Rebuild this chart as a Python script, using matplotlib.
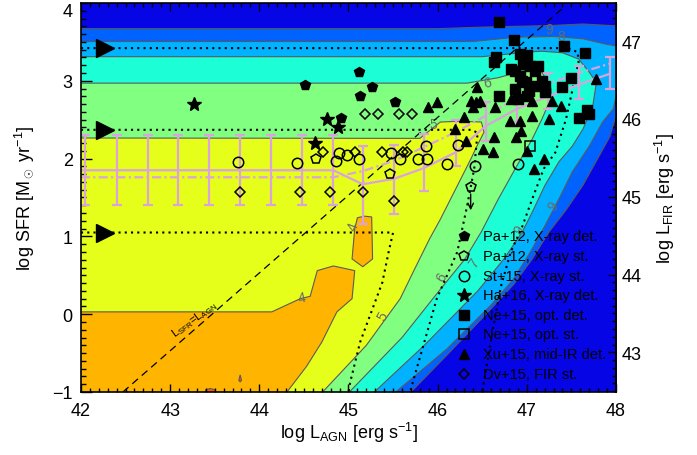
import numpy as np
import matplotlib
matplotlib.use('Agg')
import matplotlib.pyplot as plt
from matplotlib.ticker import MultipleLocator, FixedLocator

plt.rcParams['font.family'] = ['Liberation Sans', 'DejaVu Sans']
plt.rcParams['mathtext.fontset'] = 'custom'
plt.rcParams['mathtext.rm'] = 'Liberation Sans'
plt.rcParams['mathtext.it'] = 'Liberation Sans:italic'

# SFR -> L_FIR offset for the right axis
lfir_off = 43.49

# contour regions (filled, nested), outer to inner
med_x = [41.9, 46.0, 46.5, 47.25, 47.63, 48.1, 48.1, 48.0, 47.93, 47.78, 47.63, 47.44, 47.25, 47.06, 46.85, 46.5, 46.1, 45.70, 45.62, 41.9]
med_y = [3.67, 3.67, 3.69, 3.71, 3.73, 3.70, 2.6, 2.55, 2.28, 1.97, 1.66, 1.34, 1.06, 0.71, 0.38, -0.05, -0.53, -1.0, -1.1, -1.1]
sky_x = [41.9, 46.4, 46.87, 47.3, 47.63, 47.89, 48.1, 48.1, 48.0, 47.97, 47.85, 47.70, 47.51, 47.36, 47.20, 47.04, 46.85, 46.6, 46.1, 45.53, 45.45, 41.9]
sky_y = [3.505, 3.505, 3.56, 3.57, 3.54, 3.47, 3.43, 2.85, 2.8, 2.64, 2.47, 2.16, 1.83, 1.48, 1.13, 0.80, 0.45, 0.12, -0.45, -1.0, -1.1, -1.1]
cyan_x = [41.9, 46.5, 47.01, 47.17, 47.4, 47.58, 47.70, 47.78, 47.74, 47.63, 47.51, 47.36, 47.20, 47.06, 46.95, 46.75, 46.45, 45.85, 45.29, 45.2, 41.9]
cyan_y = [3.31, 3.31, 3.37, 3.38, 3.36, 3.28, 3.11, 2.98, 2.68, 2.38, 2.16, 1.96, 1.65, 1.31, 1.06, 0.72, 0.3, -0.4, -1.0, -1.1, -1.1]
green_x = [41.9, 46.33, 46.68, 46.9, 47.05, 47.17, 47.26, 47.28, 47.17, 47.06, 46.87, 46.68, 46.49, 46.3, 46.03, 45.6, 45.01, 44.92, 41.9]
green_y = [2.97, 2.97, 3.04, 3.11, 3.15, 3.11, 2.93, 2.8, 2.51, 2.25, 1.87, 1.48, 1.06, 0.7, 0.32, -0.3, -1.0, -1.1, -1.1]
yel_x = [41.9, 45.8, 46.03, 46.25, 46.49, 46.52, 46.44, 46.37, 46.22, 46.03, 45.91, 45.75, 45.58, 45.2, 44.71, 44.63, 41.9]
yel_y = [2.265, 2.26, 2.47, 2.48, 2.47, 2.34, 2.16, 1.99, 1.65, 1.22, 0.97, 0.6, 0.2, -0.4, -1.0, -1.1, -1.1]
ora_x = [41.9, 44.14, 44.46, 44.57, 44.65, 44.83, 45.07, 45.04, 44.87, 44.70, 44.53, 44.31, 44.25, 41.9]
ora_y = [0.03, 0.03, 0.20, 0.23, 0.56, 0.62, 0.56, 0.20, 0.03, -0.36, -0.67, -1.0, -1.1, -1.1]
isl_x = [45.07, 45.10, 45.18, 45.26, 45.27, 45.16, 45.04]
isl_y = [1.10, 1.24, 1.26, 1.25, 0.71, 0.61, 0.71]
red1_x = [43.37, 43.40, 43.45, 43.50, 43.53]
red1_y = [-1.1, -0.97, -0.955, -0.97, -1.1]
red2_x = [43.77, 43.785, 43.80, 43.785]
red2_y = [-0.85, -0.78, -0.85, -0.87]

# dotted model tracks
dotA_x = [42.0, 47.45, 47.57, 47.58, 47.52, 47.44, 47.32, 47.19, 47.06, 46.95, 46.82, 46.71, 46.62, 46.5]
dotA_y = [3.42, 3.42, 3.37, 3.24, 2.93, 2.51, 2.08, 1.87, 1.48, 1.13, 0.80, 0.36, -0.19, -1.0]
dotB_x = [42.0, 46.38, 46.45, 46.44, 46.41, 46.33, 46.22, 45.99, 45.69]
dotB_y = [2.37, 2.37, 2.33, 2.25, 1.87, 1.39, 0.80, 0.2, -1.0]
dotC_x = [42.0, 45.5, 45.45, 45.38, 45.24, 45.13, 45.02, 45.0]
dotC_y = [1.05, 1.05, 0.8, 0.41, -0.02, -0.36, -0.87, -1.0]
arrow_x = [42.27, 42.27, 42.27]
arrow_y = [3.42, 2.37, 1.05]

# L_SFR = L_AGN
eq_x = np.array([42.47, 47.40])
eq_y = eq_x - 43.47

# binned averages
bar_x = [42.05, 42.4, 42.75, 43.09, 43.43, 43.78, 44.13, 44.48, 44.83, 45.16, 45.51, 45.85, 46.2, 46.54, 46.89, 47.24, 47.58, 47.93]
bar_y = [1.85] * 9 + [1.66, 1.73, 1.95, 2.20, 2.48, 2.70, 2.87, 2.98, 3.10]
bar_err = [0.45] * 9 + [0.50, 0.44, 0.37, 0.30, 0.25, 0.23, 0.23, 0.21, 0.21]
solid_y = [1.85] * 9 + [1.67, 1.74, 1.88, 2.08, 2.42, 2.64, 2.80, 2.95, 3.09]
dashdot_y = [1.76] * 9 + [1.84, 1.97, 2.15, 2.34, 2.55, 2.78, 2.96, 3.10, 3.22]

# observed samples
pent_x = [44.51, 45.12, 45.13, 45.26, 44.92, 45.52]
pent_y = [2.95, 3.11, 2.80, 2.92, 2.52, 2.73]
opent_x = [44.64, 45.47, 46.37]
opent_y = [2.00, 1.80, 1.64]
circ_x = [43.76, 44.42, 44.86, 44.89, 44.98, 45.12, 45.48, 45.58, 45.78, 45.87, 45.88, 46.10, 46.23, 46.42, 46.90]
circ_y = [1.96, 1.94, 1.97, 2.07, 2.05, 2.00, 2.07, 1.99, 2.00, 2.16, 2.00, 1.93, 2.17, 1.90, 1.93]
star_x = [43.27, 44.76, 44.88, 44.62]
star_y = [2.70, 2.51, 2.41, 2.20]
sq_x = [46.69, 46.86, 47.42, 47.65, 46.65, 46.63, 46.92, 47.00, 46.96, 46.82, 46.87, 47.03, 47.12, 47.09, 46.92, 46.95,
        46.99, 47.17, 47.20, 47.09, 46.87, 47.02, 46.90, 47.00, 47.20, 47.39, 47.49, 46.69, 47.58, 47.70, 47.68]
sq_y = [3.76, 3.53, 3.45, 3.36, 3.31, 3.24, 3.34, 3.33, 3.22, 3.15, 3.12, 3.19, 3.19, 3.12, 3.06, 3.00,
        2.98, 3.00, 2.93, 2.93, 2.89, 2.87, 2.77, 2.81, 2.86, 2.92, 3.04, 2.81, 2.52, 2.57, 2.62]
osq_x = [47.04]
osq_y = [2.16]
tri_x = [45.89, 45.99, 46.29, 46.19, 46.32, 46.37, 46.43, 46.48, 46.44, 46.51, 46.62, 46.63, 46.64, 46.81, 46.92,
         46.88, 46.94, 47.06, 47.25, 46.82, 47.06, 47.28, 47.38, 47.78, 47.00, 47.19, 47.08, 46.40]
tri_y = [2.66, 2.73, 2.53, 2.38, 2.23, 2.74, 2.73, 2.74, 2.92, 2.12, 2.08, 2.28, 2.66, 2.48, 2.48,
         2.28, 2.35, 2.55, 2.51, 2.77, 2.74, 2.74, 2.68, 3.02, 2.10, 1.99, 1.87, 2.66]
dia_x = [43.78, 44.46, 44.79, 45.16, 45.51, 44.71, 45.07, 45.38, 45.61, 45.66, 45.18, 45.33, 45.57, 45.71]
dia_y = [1.57, 1.57, 1.57, 1.57, 1.45, 2.08, 2.08, 2.08, 2.09, 2.09, 2.57, 2.57, 2.57, 2.57]

legend_labels = ['Pa+12, X-ray det.', 'Pa+12, X-ray st.', 'St+15, X-ray st.', 'Ha+16, X-ray det.',
                 'Ne+15, opt. det.', 'Ne+15, opt. st.', 'Xu+15, mid-IR det.', 'Dv+15, FIR st.']

# contour labels
clab_txt = ['4', '4', '5', '5', '6', '6', '7', '8', '9', '9', '9']
clab_x = [44.48, 45.05, 45.39, 45.95, 46.05, 46.56, 46.41, 47.39, 47.25, 47.30, 46.92]
clab_y = [0.21, 1.13, -0.02, 2.44, 0.48, 2.98, 0.67, 3.58, 3.67, 1.39, 1.09]
clab_rot = [10, 70, 60, 0, 60, 10, 55, 0, 0, 55, 55]

fig = plt.figure(figsize=(6.97, 4.56), dpi=100)
ax = fig.add_axes([81 / 697, 1 - 393 / 456, 535 / 697, 389 / 456])
ax.set_facecolor('#0505e6')

edge = '#5a5a5a'
for xs, ys, col in [(med_x, med_y, '#0062ff'), (sky_x, sky_y, '#00b2ff'), (cyan_x, cyan_y, '#1cffd6'),
                    (green_x, green_y, '#80ff80'), (yel_x, yel_y, '#e6ff1a'), (ora_x, ora_y, '#ffb400'),
                    (isl_x, isl_y, '#ffb400'), (red1_x, red1_y, '#ff5a00'), (red2_x, red2_y, '#ff5a00')]:
    ax.fill(xs, ys, facecolor=col, edgecolor=edge, lw=0.8, zorder=1)

for t, x, y, r in zip(clab_txt, clab_x, clab_y, clab_rot):
    ax.text(x, y, t, color='#6a6a6a', fontsize=10, rotation=r, ha='center', va='center', zorder=2)

dot = (0, (1, 2))
for xs, ys in [(dotA_x, dotA_y), (dotB_x, dotB_y), (dotC_x, dotC_y)]:
    ax.plot(xs, ys, color='k', ls=dot, lw=1.5, zorder=3)
ax.plot(arrow_x, arrow_y, ls='none', marker='>', ms=13, color='k', zorder=3)

ax.plot(eq_x, eq_y, color='k', ls=(0, (6, 4)), lw=0.9, zorder=3)
ax.text(43.27, -0.06, r'L$_{\rm SFR}$=L$_{\rm AGN}$', fontsize=8, rotation=36,
        ha='center', va='center', zorder=3)

pink = '#dba2dc'
line_x = [42.0] + bar_x[1:]
ax.plot(line_x, solid_y, color=pink, lw=1.6, zorder=4)
ax.plot(line_x, dashdot_y, color=pink, lw=1.6, ls=(0, (4, 1.5, 1, 1.5)), zorder=4)
ax.errorbar(bar_x, bar_y, yerr=bar_err, fmt='none', ecolor=pink, elinewidth=1.6,
            capsize=3.5, capthick=1.6, zorder=4)

mk = dict(ls='none', zorder=5)
ax.plot(pent_x, pent_y, marker='p', ms=7.5, color='k', **mk)
ax.plot(opent_x, opent_y, marker='p', ms=7.5, mfc='none', mec='k', mew=1.1, **mk)
ax.annotate('', xy=(46.37, 1.30), xytext=(46.37, 1.58),
            arrowprops=dict(arrowstyle='->', color='k', lw=1.0), zorder=5)
ax.plot(circ_x, circ_y, marker='o', ms=7.5, mfc='none', mec='k', mew=1.1, **mk)
ax.plot(star_x, star_y, marker='*', ms=10.5, color='k', **mk)
ax.plot(sq_x, sq_y, marker='s', ms=7, color='k', **mk)
ax.plot(osq_x, osq_y, marker='s', ms=7, mfc='none', mec='k', mew=1.1, **mk)
ax.plot(tri_x, tri_y, marker='^', ms=6.5, color='k', **mk)
ax.plot(dia_x, dia_y, marker='D', ms=5, mfc='none', mec='k', mew=1.1, **mk)

# legend block
leg_y = [0.401, 0.350, 0.298, 0.249, 0.198, 0.149, 0.098, 0.046]
leg_mk = [dict(marker='p', ms=7.5, color='k'), dict(marker='p', ms=7.5, mfc='none', mec='k', mew=1.1),
          dict(marker='o', ms=7.5, mfc='none', mec='k', mew=1.1), dict(marker='*', ms=10.5, color='k'),
          dict(marker='s', ms=7, color='k'), dict(marker='s', ms=7, mfc='none', mec='k', mew=1.1),
          dict(marker='^', ms=6.5, color='k'), dict(marker='D', ms=5, mfc='none', mec='k', mew=1.1)]
for yy, lab, st in zip(leg_y, legend_labels, leg_mk):
    ax.plot([0.716], [yy], ls='none', transform=ax.transAxes, zorder=6, **st)
    ax.text(0.751, yy, lab, transform=ax.transAxes, fontsize=10.5, va='center', ha='left', zorder=6)

ax.set_xlim(42, 48)
ax.set_ylim(-1, 4)
ax.xaxis.set_major_locator(MultipleLocator(1))
ax.xaxis.set_minor_locator(MultipleLocator(0.1))
ax.yaxis.set_major_locator(FixedLocator([-1, 0, 1, 2, 3, 4]))
ax.yaxis.set_minor_locator(MultipleLocator(0.1))
ax.tick_params(which='both', direction='in', top=True, right=False, labelsize=13, width=1.0)
ax.tick_params(axis='x', which='major', length=6, pad=7)
ax.tick_params(axis='x', which='minor', length=3)
ax.tick_params(axis='y', which='major', length=8, pad=6)
ax.tick_params(axis='y', which='minor', length=3.5)
for s in ax.spines.values():
    s.set_linewidth(1.2)
    s.set_zorder(7)
# keep the top label inside the figure
ax.yaxis.get_major_ticks()[-1].label1.set_verticalalignment('top')

ax.set_xlabel(r'log L$_{\rm AGN}$ [erg s$^{-1}$]', fontsize=13, labelpad=1)
ax.set_ylabel(r'log SFR [M$_\odot$ yr$^{-1}$]', fontsize=13, labelpad=12)

ax2 = ax.secondary_yaxis('right', functions=(lambda y: y + lfir_off, lambda y: y - lfir_off))
ax2.yaxis.set_major_locator(FixedLocator([43, 44, 45, 46, 47]))
ax2.yaxis.set_minor_locator(MultipleLocator(0.1))
ax2.tick_params(which='both', direction='in', labelsize=13, width=1.0)
ax2.tick_params(which='major', length=6, pad=4)
ax2.tick_params(which='minor', length=3)
ax2.spines['right'].set_linewidth(1.2)
ax2.set_ylabel(r'log L$_{\rm FIR}$ [erg s$^{-1}$]', fontsize=13, labelpad=8)

fig.savefig('out.png', dpi=100)
